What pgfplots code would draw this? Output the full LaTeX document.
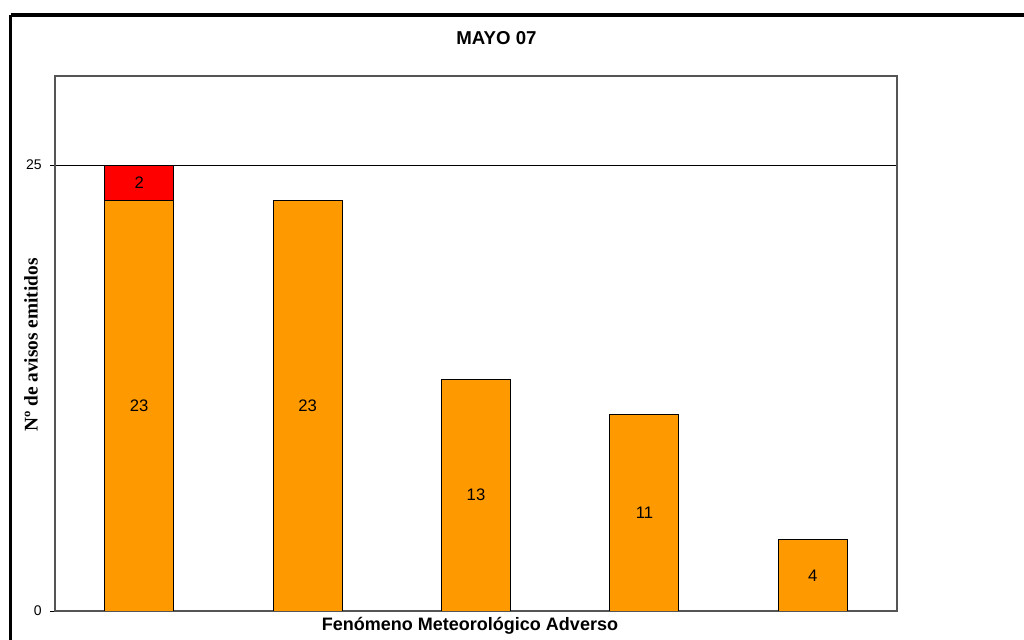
\documentclass[border=0pt]{standalone}
\usepackage{pgfplots}
\pgfplotsset{compat=1.18}
\usepackage{fontspec}
\setmainfont{Liberation Sans}
\newfontfamily\timesfont{Liberation Serif}
\definecolor{barorange}{HTML}{FF9900}
\definecolor{barred}{HTML}{FF0000}
\definecolor{frame}{HTML}{555555}

\begin{document}
\begin{tikzpicture}[x=0.75pt,y=0.75pt]
\useasboundingbox (0,0) rectangle (1024,639);
\begin{scope}
\clip (0,0) rectangle (1024,639);
\draw[line width=2.4pt] (10.5,624) -- (1040,624);
\draw[line width=2.4pt] (10.5,624) -- (10.5,-10);
\end{scope}

\begin{axis}[
    at={(104.4pt,21pt)}, anchor=origin,
    scale only axis,
    width=631.5pt, height=401.25pt,
    ybar stacked,
    bar width=0.41,
    xmin=-0.5, xmax=4.5,
    ymin=0, ymax=30,
    xtick=\empty,
    ytick={0,25},
    ytick pos=left,
    ymajorgrids,
    grid style={black, line width=0.75pt},
    axis line style={frame, line width=1.1pt},
    tick align=outside,
    major tick length=3.75pt,
    ytick style={black, line width=0.6pt},
    /pgf/number format/assume math mode=true,
    yticklabel style={font=\fontsize{10.5}{12}\selectfont, inner sep=0pt, xshift=-6pt},
    visualization depends on={rawy \as \rawy},
    nodes near coords={\pgfmathprintnumber{\rawy}},
    every node near coord/.append style={anchor=center, font=\fontsize{12.5}{14}\selectfont},
]
\addplot[fill=barorange, draw=black, line width=0.7pt] coordinates {(0,23) (1,23) (2,13) (3,11) (4,4)};
\addplot[fill=barred, draw=black, line width=0.7pt] coordinates {(0,2)};
\end{axis}

\node[font=\bfseries\fontsize{14}{16}\selectfont] at (496.5,601) {MAYO 07};
\node[font=\bfseries\fontsize{13.5}{16}\selectfont] at (470,13) {Fenómeno Meteorológico Adverso};
\node[font=\timesfont\bfseries\fontsize{14.5}{16}\selectfont, rotate=90] at (31,294) {Nº de avisos emitidos};
\end{tikzpicture}
\end{document}
